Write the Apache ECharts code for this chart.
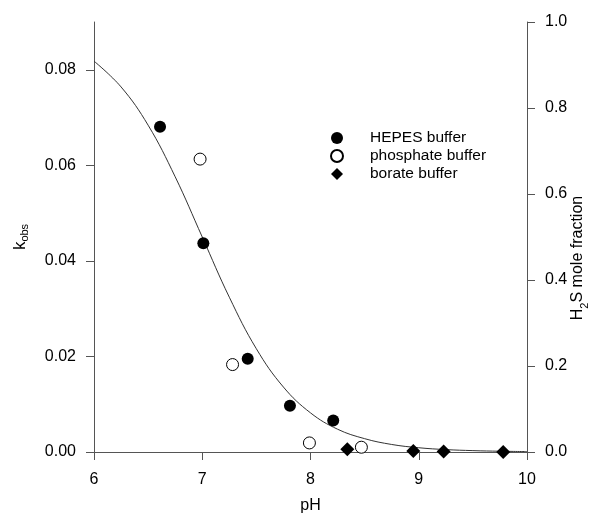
<!DOCTYPE html>
<html>
<head>
<meta charset="utf-8">
<script src="https://cdn.jsdelivr.net/npm/echarts@6/dist/echarts.min.js"></script>
<style>html,body{margin:0;padding:0;background:#fff}#c{width:592px;height:513px}</style>
</head>
<body>
<div id="c"></div>
<script>
// Data
const hepesPH = [6.61, 7.01, 7.42, 7.81, 8.21];
const hepesK = [0.0681, 0.0437, 0.0195, 0.0097, 0.0066];
const phosphatePH = [6.98, 7.28, 7.99, 8.47];
const phosphateK = [0.0613, 0.0183, 0.0019, 0.0010];
const boratePH = [8.34, 8.95, 9.23, 9.78];
const borateK = [0.0006, 0.0002, 0.0001, 0.0000];
// H2S mole fraction curve (right axis), read at pH steps
const curvePH = [6.0, 6.25, 6.5, 6.75, 7.0, 7.25, 7.5, 7.75, 8.0, 8.25, 8.5, 8.75, 9.0, 9.25, 9.5, 9.75, 10.0];
const curveFrac = [0.909, 0.849, 0.760, 0.640, 0.500, 0.360, 0.240, 0.151, 0.091, 0.053, 0.031, 0.0175, 0.0099, 0.0056, 0.0032, 0.0018, 0.0010];
const leftTicks = [0, 0.02, 0.04, 0.06, 0.08];
const rightTicks = [0, 0.2, 0.4, 0.6, 0.8, 1.0];
const xTicks = [6, 7, 8, 9, 10];

const zip = (a, b) => a.map((v, i) => [v, b[i]]);
const FONT = 'Liberation Sans, Arial, sans-serif';
const axisCol = '#555';
const FS = 16;

const chart = echarts.init(document.getElementById('c'));
chart.setOption({
  animation: false,
  textStyle: { fontFamily: FONT, color: '#000' },
  grid: { left: 94, right: 65, top: 22, bottom: 61, outerBoundsMode: 'none', containLabel: false },
  legend: {
    orient: 'vertical', left: 325, top: 125, itemGap: 2, itemWidth: 12, itemHeight: 12,
    textStyle: { fontFamily: FONT, fontSize: 15.5, lineHeight: 15, color: '#000', padding: [0, 0, 0, 22] },
    data: ['HEPES buffer', 'phosphate buffer', 'borate buffer']
  },
  xAxis: [{
    type: 'value', min: 6, max: 10, interval: 1,
    name: 'pH', nameLocation: 'middle', nameGap: 46, nameMoveOverlap: false,
    nameTextStyle: { fontSize: FS, fontFamily: FONT, color: '#000' },
    axisLine: { lineStyle: { color: axisCol, width: 1 } },
    axisTick: { inside: false, length: 8, lineStyle: { color: axisCol } },
    axisLabel: { margin: 20, fontSize: FS, color: '#000', fontFamily: FONT },
    splitLine: { show: false }
  }, {
    type: 'value', min: 6, max: 10, position: 'top',
    axisLine: { show: true, lineStyle: { color: axisCol, width: 1 } },
    axisTick: { show: false }, axisLabel: { show: false }, splitLine: { show: false }
  }],
  yAxis: [{
    type: 'value', min: 0, max: 0.09, interval: 0.01,
    name: '{k|k}{s|obs}', nameLocation: 'middle', nameGap: 64, nameRotate: 90, nameMoveOverlap: false,
    nameTextStyle: { rich: { k: { fontSize: 17, fontFamily: FONT, color: '#000' }, s: { fontSize: 11, fontFamily: FONT, color: '#000', verticalAlign: 'bottom', padding: [8, 0, 0, 0] } } },
    axisLine: { show: true, lineStyle: { color: axisCol, width: 1 } },
    axisTick: { inside: false, length: 8, customValues: leftTicks, lineStyle: { color: axisCol } },
    axisLabel: { margin: 18, fontSize: FS, color: '#000', fontFamily: FONT, customValues: leftTicks, formatter: v => v.toFixed(2) },
    splitLine: { show: false }
  }, {
    type: 'value', min: 0, max: 1, interval: 0.2, position: 'right',
    name: '{h|H}{s|2}{h|S mole fraction}{g| }', nameLocation: 'middle', nameGap: 47, nameRotate: 90, nameMoveOverlap: false,
    nameTextStyle: { rich: {
      h: { fontSize: FS, fontFamily: FONT, color: '#000', lineHeight: 16, verticalAlign: 'bottom', padding: [0, 0, 4, 0] },
      s: { fontSize: 11, fontFamily: FONT, color: '#000', lineHeight: 11, verticalAlign: 'bottom' },
      g: { fontSize: FS, lineHeight: 16, verticalAlign: 'bottom', padding: [0, 0, 4, 0], width: 42 } } },
    axisLine: { show: true, lineStyle: { color: axisCol, width: 1 } },
    axisTick: { inside: false, length: 8, lineStyle: { color: axisCol } },
    axisLabel: { margin: 18, fontSize: FS, color: '#000', fontFamily: FONT, formatter: v => v.toFixed(1) },
    splitLine: { show: false }
  }],
  series: [{
    name: 'H2S fraction', type: 'line', xAxisIndex: 0, yAxisIndex: 1,
    data: zip(curvePH, curveFrac), smooth: 0.4, showSymbol: false,
    lineStyle: { color: '#333', width: 1 }, z: 1, silent: true
  }, {
    name: 'HEPES buffer', type: 'scatter', yAxisIndex: 0,
    data: zip(hepesPH, hepesK), symbol: 'circle', symbolSize: 12,
    itemStyle: { color: '#000', opacity: 1 }, z: 3
  }, {
    name: 'phosphate buffer', type: 'scatter', yAxisIndex: 0,
    data: zip(phosphatePH, phosphateK), symbol: 'circle', symbolSize: 12,
    itemStyle: { color: '#fff', borderColor: '#000', borderWidth: 1, opacity: 1 }, z: 3
  }, {
    name: 'borate buffer', type: 'scatter', yAxisIndex: 0,
    data: zip(boratePH, borateK), symbol: 'diamond', symbolSize: [14, 14],
    itemStyle: { color: '#000', opacity: 1 }, z: 3
  }]
});
</script>
</body>
</html>
